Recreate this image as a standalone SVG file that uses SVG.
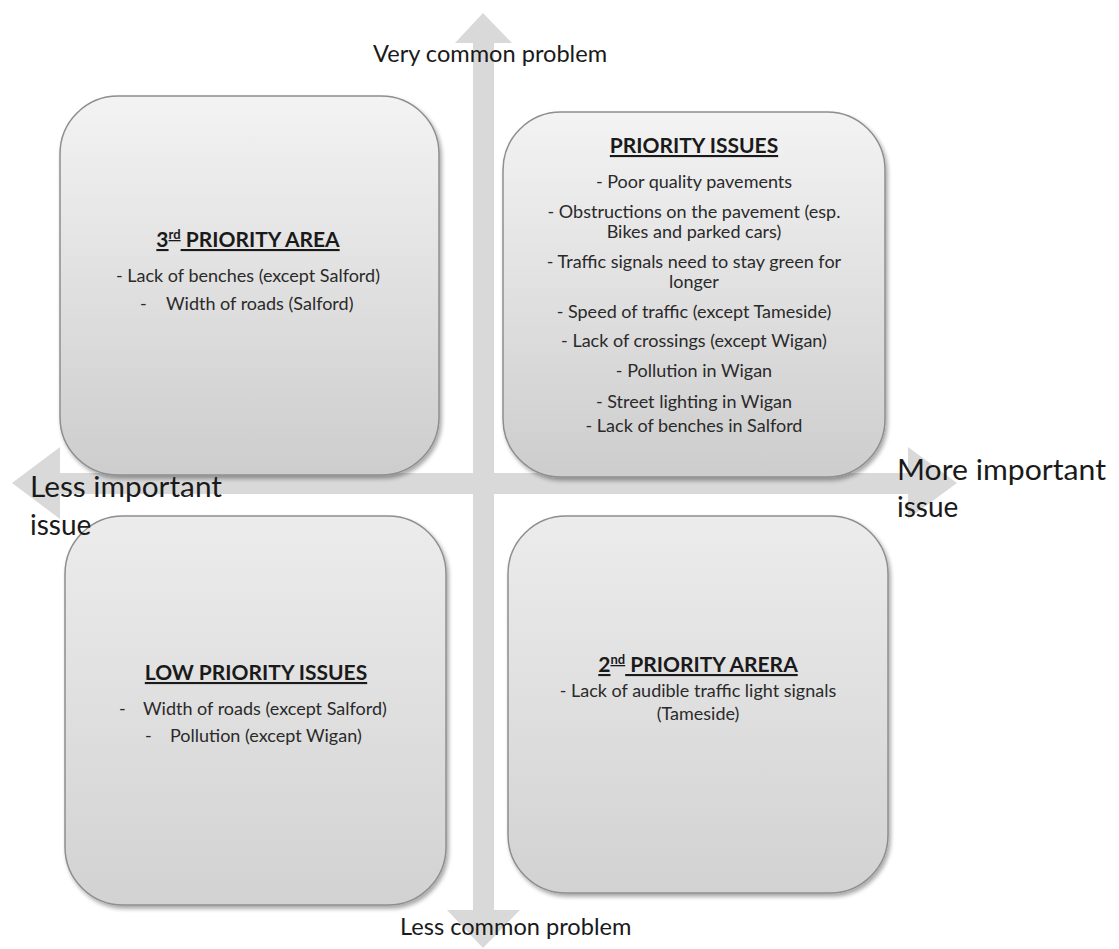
<svg xmlns="http://www.w3.org/2000/svg" width="1119" height="949" viewBox="0 0 1119 949">
  <defs>
    <linearGradient id="boxGrad" x1="0" y1="0" x2="0" y2="1">
      <stop offset="0" stop-color="#f3f3f3"/>
      <stop offset="1" stop-color="#cdcdcd"/>
    </linearGradient>
    <linearGradient id="boxGrad2" x1="0" y1="0" x2="0" y2="1">
      <stop offset="0" stop-color="#ececec"/>
      <stop offset="1" stop-color="#d2d2d2"/>
    </linearGradient>
    <filter id="shadow" x="-10%" y="-10%" width="125%" height="125%">
      <feGaussianBlur in="SourceAlpha" stdDeviation="2"/>
      <feOffset dx="2" dy="3" result="b"/>
      <feComponentTransfer><feFuncA type="linear" slope="0.35"/></feComponentTransfer>
      <feMerge><feMergeNode/><feMergeNode in="SourceGraphic"/></feMerge>
    </filter>
  </defs>
  <style>
    .box { stroke: #8e8e8e; stroke-width: 1.5; filter: url(#shadow); }
    .axis { fill: #d9d9d9; }
    .axlbl { font-family: Lato, "Liberation Sans", sans-serif; font-size: 23.6px; fill: #1a1a1a; }
    .axlbl2 { font-family: Lato, "Liberation Sans", sans-serif; font-size: 28px; fill: #1a1a1a; }
    .head { font-family: Lato, "Liberation Sans", sans-serif; font-size: 21px; font-weight: bold; fill: #1a1a1a; text-decoration: underline; text-anchor: middle; }
    .body { font-family: Lato, "Liberation Sans", sans-serif; font-size: 18px; fill: #2a2a2a; text-anchor: middle; }
    .bodyL { font-family: Lato, "Liberation Sans", sans-serif; font-size: 18px; fill: #2a2a2a; }
    .sup { font-size: 13px; }
  </style>
  <rect width="1119" height="949" fill="#ffffff"/>

  <g id="connectors">
    <polygon class="axis" points="12,483 60,447 60,473 908,473 908,447 957,483 908,519 908,494 60,494 60,519"/>
    <polygon class="axis" points="483,13 512,43 494,43 494,910 520,910 483,948 447,910 473,910 473,43 455,43"/>
  </g>

  <g id="q-third">
    <rect class="box" x="60" y="96" width="379" height="379" rx="58" ry="58" fill="url(#boxGrad)"/>
    <text class="head" x="248" y="247">3<tspan class="sup" dy="-8">rd</tspan><tspan dy="8"> PRIORITY AREA</tspan></text>
    <text class="body" x="248" y="282">- Lack of benches (except Salford)</text>
    <text class="bodyL" x="140" y="310">-</text>
    <text class="bodyL" x="166" y="310">Width of roads (Salford)</text>
  </g>

  <g id="q-priority">
    <rect class="box" x="503" y="112" width="382" height="365" rx="58" ry="58" fill="url(#boxGrad)"/>
    <text class="head" x="694" y="153">PRIORITY ISSUES</text>
    <text class="body" x="694" y="188">- Poor quality pavements</text>
    <text class="body" x="694" y="218">- Obstructions on the pavement (esp.</text>
    <text class="body" x="694" y="238">Bikes and parked cars)</text>
    <text class="body" x="694" y="268">- Traffic signals need to stay green for</text>
    <text class="body" x="694" y="288">longer</text>
    <text class="body" x="694" y="318">- Speed of traffic (except Tameside)</text>
    <text class="body" x="694" y="347">- Lack of crossings (except Wigan)</text>
    <text class="body" x="694" y="377">-  Pollution in Wigan</text>
    <text class="body" x="694" y="408">- Street lighting in Wigan</text>
    <text class="body" x="694" y="432">- Lack of benches in Salford</text>
  </g>

  <g id="q-low">
    <rect class="box" x="65" y="516" width="381" height="389" rx="58" ry="58" fill="url(#boxGrad2)"/>
    <text class="head" x="256" y="680">LOW PRIORITY ISSUES</text>
    <text class="bodyL" x="119" y="715">-</text>
    <text class="bodyL" x="143" y="715">Width of roads (except Salford)</text>
    <text class="bodyL" x="145" y="742">-</text>
    <text class="bodyL" x="170" y="742">Pollution (except Wigan)</text>
  </g>

  <g id="q-second">
    <rect class="box" x="508" y="516" width="380" height="377" rx="58" ry="58" fill="url(#boxGrad2)"/>
    <text class="head" x="698" y="672">2<tspan class="sup" dy="-8">nd</tspan><tspan dy="8"> PRIORITY ARERA</tspan></text>
    <text class="body" x="698" y="697">- Lack of audible traffic light signals</text>
    <text class="body" x="698" y="720">(Tameside)</text>
  </g>

  <g id="axis-labels">
    <text class="axlbl" x="373" y="62">Very common problem</text>
    <text class="axlbl" x="400" y="935">Less common problem</text>
    <text class="axlbl2" x="30" y="497" textLength="192" lengthAdjust="spacingAndGlyphs">Less important</text>
    <text class="axlbl2" x="30" y="535">issue</text>
    <text class="axlbl2" x="897" y="480" textLength="209" lengthAdjust="spacingAndGlyphs">More important</text>
    <text class="axlbl2" x="897" y="517">issue</text>
  </g>
</svg>
